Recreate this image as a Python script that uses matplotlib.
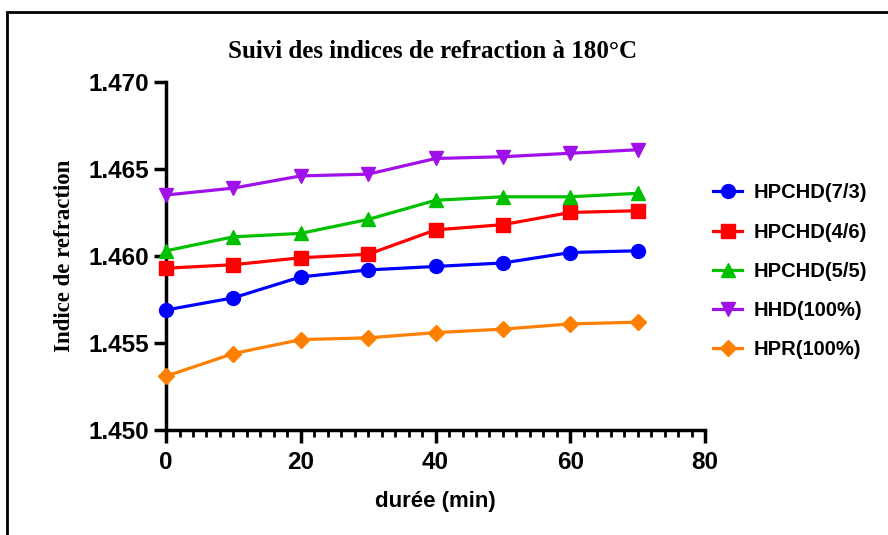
import matplotlib.pyplot as plt
from matplotlib.patches import Rectangle
from matplotlib.ticker import MultipleLocator

# durée (min)
temps = [0, 10, 20, 30, 40, 50, 60, 70]

hpchd_73 = [1.4569, 1.4576, 1.4588, 1.4592, 1.4594, 1.4596, 1.4602, 1.4603]
hpchd_46 = [1.4593, 1.4595, 1.4599, 1.4601, 1.4615, 1.4618, 1.4625, 1.4626]
hpchd_55 = [1.4603, 1.4611, 1.4613, 1.4621, 1.4632, 1.4634, 1.4634, 1.4636]
hhd_100 = [1.4635, 1.4639, 1.4646, 1.4647, 1.4656, 1.4657, 1.4659, 1.4661]
hpr_100 = [1.4531, 1.4544, 1.4552, 1.4553, 1.4556, 1.4558, 1.4561, 1.4562]

series = [
    ('HPCHD(7/3)', hpchd_73, '#0000FF', 'o'),
    ('HPCHD(4/6)', hpchd_46, '#FF0000', 's'),
    ('HPCHD(5/5)', hpchd_55, '#00C000', '^'),
    ('HHD(100%)', hhd_100, '#A010E8', 'v'),
    ('HPR(100%)', hpr_100, '#FF8000', 'D'),
]

fig = plt.figure(figsize=(8.88, 5.35), dpi=100)
ax = fig.add_axes([0.187, 0.196, 0.607, 0.651])

for label, vals, color, marker in series:
    ms = 8 if marker == 'D' else 10
    ax.plot(temps, vals, color=color, marker=marker, markersize=ms,
            linewidth=2.3, label=label, clip_on=False, zorder=3)

ax.set_xlim(0, 80)
ax.set_ylim(1.450, 1.470)
ax.xaxis.set_major_locator(MultipleLocator(20))
ax.xaxis.set_minor_locator(MultipleLocator(2))
ax.yaxis.set_major_locator(MultipleLocator(0.005))
ax.yaxis.set_major_formatter(plt.FormatStrFormatter('%.3f'))

for side in ['top', 'right']:
    ax.spines[side].set_visible(False)
for side in ['left', 'bottom']:
    ax.spines[side].set_linewidth(2.5)

ax.tick_params(which='major', length=9, width=2.5, direction='out', pad=3)
ax.tick_params(axis='x', which='major', pad=6)
ax.tick_params(which='minor', length=5, width=2.0, direction='out', axis='x')
for lab in ax.get_xticklabels() + ax.get_yticklabels():
    lab.set_fontfamily('Liberation Sans')
    lab.set_fontweight('bold')
    lab.set_fontsize(17.5)

ax.set_xlabel('durée (min)', fontsize=16, fontweight='bold',
              fontfamily='Liberation Sans', labelpad=12)
ax.set_ylabel('Indice de refraction', fontsize=16.5, fontweight='bold',
              fontfamily='Liberation Serif', labelpad=10)
fig.text(0.487, 0.903, 'Suivi des indices de refraction à 180°C',
         ha='center', va='center', fontsize=18, fontweight='bold',
         fontfamily='Liberation Serif')

ax.legend(loc='upper left', bbox_to_anchor=(0.783, 0.691),
          bbox_transform=fig.transFigure, frameon=False,
          prop={'family': 'Liberation Sans', 'weight': 'bold', 'size': 14.5},
          labelspacing=1.0, handlelength=1.4, handletextpad=0.6)

# cadre extérieur
fig.patches.append(Rectangle((0.008, -0.1), 1.1, 1.078, transform=fig.transFigure,
                             fill=False, edgecolor='black', linewidth=2))

fig.savefig('out.png', dpi=100)
